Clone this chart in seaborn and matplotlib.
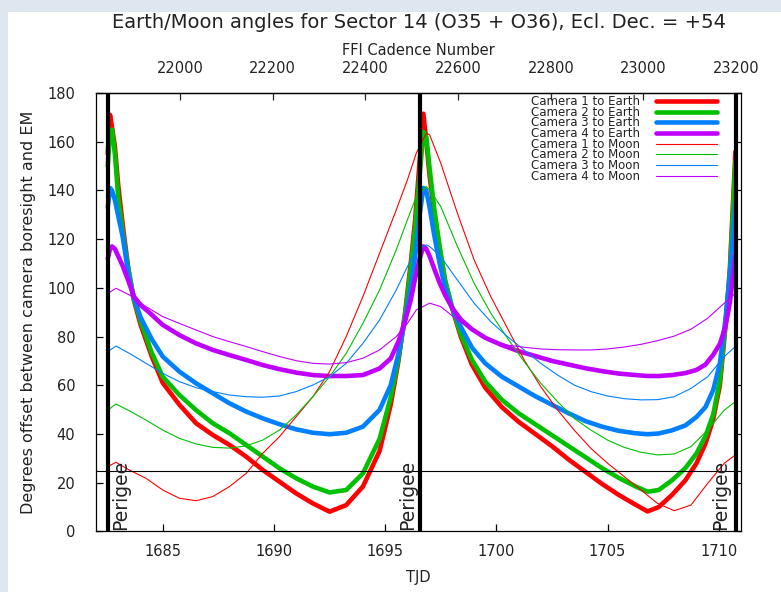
import matplotlib
matplotlib.use("Agg")
import matplotlib.pyplot as plt
import seaborn as sns
import pandas as pd
from matplotlib.patches import Rectangle

# ---------------- data ----------------
T_EARTH = [1682.53, 1682.63, 1682.72, 1682.85, 1683.0, 1683.2, 1683.45, 1683.7, 1684.0, 1684.5,
           1685.0, 1685.75, 1686.5, 1687.25, 1688.0, 1688.75, 1689.5, 1690.25, 1691.0, 1691.75,
           1692.5, 1693.25, 1694.0, 1694.75, 1695.25, 1695.6, 1695.9, 1696.15, 1696.35, 1696.55,
           1696.72, 1696.85, 1697.0, 1697.2, 1697.45, 1697.7, 1698.0, 1698.4, 1698.9, 1699.5,
           1700.25, 1701.0, 1701.75, 1702.5, 1703.25, 1704.0, 1704.75, 1705.5, 1706.25, 1706.8,
           1707.3, 1707.9, 1708.5, 1709.0, 1709.4, 1709.75, 1710.05, 1710.3, 1710.5, 1710.75]

CAM1_EARTH = [155, 171, 166, 158, 142, 126, 108, 95, 85, 72,
              61, 52, 44.4, 39.6, 35.5, 30.7, 25.2, 20.4, 15.6, 11.5,
              8.1, 10.8, 18.4, 33, 52, 70, 90, 110, 128, 152,
              171.5, 160, 146, 131, 116, 102.5, 92, 80, 68.5, 59,
              51, 45, 40, 35, 29.5, 24.5, 19.5, 15, 11, 8.2,
              10, 15, 21, 28, 36, 46, 60, 84, 108, 156]

CAM2_EARTH = [150, 164, 165, 155, 137, 123, 108, 95.5, 86.5, 73.5,
              63.5, 56, 49.8, 44.4, 40.3, 35.5, 30.7, 25.9, 21.8, 18.4,
              16, 17, 23.8, 38, 55, 71, 89, 108, 125, 146,
              164, 162, 149, 133, 117, 103, 92.5, 81, 70.5, 61.5,
              54, 48.5, 44, 39.5, 35, 30.5, 26, 22, 18.5, 16.3,
              17, 21, 26, 32, 39, 48, 62, 85, 106, 152]

CAM3_EARTH = [133, 141, 140, 136, 129.5, 121, 106, 96, 88, 79,
              71.8, 65.6, 60.8, 56.7, 52.6, 49.2, 46.4, 44, 41.9, 40.5,
              39.9, 40.5, 43, 49.9, 60, 73, 87, 100, 113, 130,
              141, 140, 133, 122, 110, 100, 92, 84, 75.5, 69,
              63.5, 59.5, 55.5, 52, 48.5, 45.3, 43, 41.3, 40.3, 39.9,
              40.2, 41.5, 43.5, 47, 51, 58, 69, 87, 105, 135]

CAM4_EARTH = [112, 116, 117, 116, 113, 109, 103, 96.5, 93, 89,
              84.8, 80.6, 77.2, 74.5, 72.4, 70.4, 68.3, 66.6, 65.2, 64.2,
              63.8, 63.8, 64.2, 66.9, 71, 78, 86.5, 95, 104, 112,
              117, 116, 113, 108, 102, 97, 92, 87, 83, 79.5,
              76.5, 74, 72, 70, 68.5, 67, 65.8, 64.8, 64.2, 63.8,
              63.8, 64.2, 65, 66.3, 68.5, 72.5, 77, 84, 94, 113.5]

T_MOON = [1682.53, 1682.9, 1683.5, 1684.25, 1685.0, 1685.75, 1686.5, 1687.25, 1688.0, 1688.75,
          1689.5, 1690.25, 1691.0, 1691.75, 1692.5, 1693.25, 1694.0, 1694.75, 1695.5, 1696.0,
          1696.4, 1696.85, 1697.0, 1697.5, 1698.25, 1699.0, 1699.75, 1700.5, 1701.25, 1702.0,
          1702.75, 1703.5, 1704.25, 1705.0, 1705.75, 1706.5, 1707.25, 1708.0, 1708.75, 1709.5,
          1710.25, 1710.75]

CAM1_MOON = [26.6, 28.4, 25.2, 21.8, 17.0, 13.6, 12.6, 14.3, 18.4, 23.8,
             32.1, 38.9, 47.1, 55.3, 65.6, 80, 96.4, 114.2, 132, 144.3,
             155.3, 163.5, 162.8, 151.2, 130.6, 111.5, 96.4, 83.4, 70.4, 59.4,
             49.9, 41.6, 34.1, 28.0, 22.5, 17.0, 11.5, 8.5, 10.8, 19.7,
             28, 31.4]

CAM2_MOON = [49.8, 52.3, 49.5, 45.7, 41.6, 38.2, 35.9, 34.5, 34.2, 35.1,
             37.5, 41.6, 47.8, 55.3, 63.5, 73.1, 85.4, 99.1, 115.6, 127.9,
             137.5, 141.6, 140.2, 133.4, 117, 101.9, 89.6, 79.3, 69.7, 60.8,
             53.3, 46.4, 41.6, 37.5, 34.5, 32.5, 31.4, 31.8, 34.8, 41.6,
             49.8, 53.3]

CAM3_MOON = [73.8, 76.1, 73.1, 69.0, 64.9, 61.5, 59.0, 57.4, 56.0, 55.3,
             55.1, 55.6, 57.4, 60.1, 63.5, 69.0, 77.2, 86.8, 99.1, 108.7,
             115.6, 117.6, 117, 112.8, 103.2, 93.7, 86.1, 80.0, 74.5, 69.0,
             64.2, 60.1, 57.4, 55.6, 54.5, 54.0, 54.1, 55.3, 58.7, 63.5,
             71.8, 75.9]

CAM4_MOON = [97.8, 99.8, 97.1, 92.3, 88.2, 85.4, 82.7, 80.0, 77.9, 75.9,
             73.8, 71.8, 70.1, 69.0, 68.7, 69.3, 71.1, 74.5, 80.0, 85.4,
             90.9, 93.0, 93.7, 92.3, 86.8, 82.0, 78.6, 76.5, 75.6, 74.9,
             74.6, 74.5, 74.5, 74.9, 75.7, 76.8, 78.3, 80.2, 83.0, 87.5,
             93.7, 97.8]

PERIGEE_TJD = [1682.53, 1696.57, 1710.76]
THRESHOLD_DEG = 25
TJD_TICKS = [1685, 1690, 1695, 1700, 1705, 1710]
DEG_TICKS = [0, 20, 40, 60, 80, 100, 120, 140, 160, 180]
CADENCE_TICKS = [22000, 22200, 22400, 22600, 22800, 23000, 23200]
CADENCE_REF = 22000
CADENCE_REF_TJD = 1685.78
CADENCE_PER_DAY = 48.0

TITLE = "Earth/Moon angles for Sector 14 (O35 + O36), Ecl. Dec. = +54"

SERIES = [
    ("Camera 1 to Earth", T_EARTH, CAM1_EARTH, "#ff0000", 3.3),
    ("Camera 2 to Earth", T_EARTH, CAM2_EARTH, "#00c000", 3.3),
    ("Camera 3 to Earth", T_EARTH, CAM3_EARTH, "#0080ff", 3.3),
    ("Camera 4 to Earth", T_EARTH, CAM4_EARTH, "#c000ff", 3.3),
    ("Camera 1 to Moon", T_MOON, CAM1_MOON, "#ff0000", 0.8),
    ("Camera 2 to Moon", T_MOON, CAM2_MOON, "#00c000", 0.8),
    ("Camera 3 to Moon", T_MOON, CAM3_MOON, "#0080ff", 0.8),
    ("Camera 4 to Moon", T_MOON, CAM4_MOON, "#c000ff", 0.8),
]

# ---------------- style ----------------
sns.set_style("ticks", {"xtick.direction": "in", "ytick.direction": "in",
                        "axes.edgecolor": "black"})
plt.rcParams["font.family"] = ["DejaVu Sans"]
plt.rcParams["axes.linewidth"] = 0.9

W, H = 781, 592
fig = plt.figure(figsize=(W / 100, H / 100), dpi=100)
fig.patch.set_facecolor("white")
# window frame around the plot (light strips on the left and top)
fig.patches.append(Rectangle((0, 0), 8 / W, 1, transform=fig.transFigure,
                             facecolor="#dfe6ef", edgecolor="none", zorder=-10))
fig.patches.append(Rectangle((0, 1 - 12 / H), 1, 12 / H, transform=fig.transFigure,
                             facecolor="#dfe6ef", edgecolor="none", zorder=-10))

left, right, top, bottom = 96, 741, 93, 531.4
ax = fig.add_axes([left / W, 1 - bottom / H, (right - left) / W, (bottom - top) / H])
ax.set_facecolor("white")

for i, (name, t, v, col, lw) in enumerate(SERIES):
    df = pd.DataFrame({"TJD": t, "deg": v})
    sns.lineplot(data=df, x="TJD", y="deg", color=col, linewidth=lw, label=name,
                 sort=False, estimator=None, ax=ax, zorder=2 + i * 0.01)

for p in PERIGEE_TJD:
    ax.axvline(p, color="black", linewidth=3.0, zorder=5)
ax.axhline(THRESHOLD_DEG, color="black", linewidth=0.8, zorder=4)

# perigee labels
ax.text(PERIGEE_TJD[0] + 0.13, 0.4, "Perigee", rotation=90, ha="left", va="bottom",
        fontsize=13.5, color="#222222", zorder=6)
ax.text(PERIGEE_TJD[1] - 0.15, 0.4, "Perigee", rotation=90, ha="right", va="bottom",
        fontsize=13.5, color="#222222", zorder=6)
ax.text(PERIGEE_TJD[2] - 0.26, 0.4, "Perigee", rotation=90, ha="right", va="bottom",
        fontsize=13.5, color="#222222", zorder=6)

ax.set_xlim(1682.0, 1711.0)
ax.set_ylim(0, 180)
ax.set_xticks(TJD_TICKS)
ax.set_yticks(DEG_TICKS)
ax.tick_params(axis="both", which="both", direction="in", length=5, width=0.9,
               labelsize=10.5, colors="black", labelcolor="#222222")
ax.tick_params(axis="x", pad=9, top=False)
ax.tick_params(axis="y", pad=15, right=True)
ax.set_xlabel("TJD", fontsize=10.5, color="#222222", labelpad=8)
ax.set_ylabel("Degrees offset between camera boresight and EM", fontsize=11.5,
              color="#222222", labelpad=8)
for s in ax.spines.values():
    s.set_visible(True)
    s.set_color("black")
    s.set_linewidth(0.9)


def tjd2cad(t):
    return CADENCE_REF + (t - CADENCE_REF_TJD) * CADENCE_PER_DAY


def cad2tjd(c):
    return CADENCE_REF_TJD + (c - CADENCE_REF) / CADENCE_PER_DAY


sec = ax.secondary_xaxis("top", functions=(tjd2cad, cad2tjd))
sec.set_xticks(CADENCE_TICKS)
sec.tick_params(direction="in", length=5, width=0.9, labelsize=10.5, pad=12,
                labelcolor="#222222")
sec.set_xlabel("FFI Cadence Number", fontsize=10.5, color="#222222", labelpad=4.5)

ax.set_title(TITLE, fontsize=14, color="#222222", pad=47)

leg = ax.legend(loc="upper right", bbox_to_anchor=(0.9628, 0.995), frameon=False,
                markerfirst=False, fontsize=8.5, handlelength=5.2, handletextpad=1.3,
                labelspacing=-0.2, borderpad=0, borderaxespad=0)
for txt in leg.get_texts():
    txt.set_color("#222222")

fig.savefig("out.png", dpi=100, facecolor=fig.get_facecolor())
